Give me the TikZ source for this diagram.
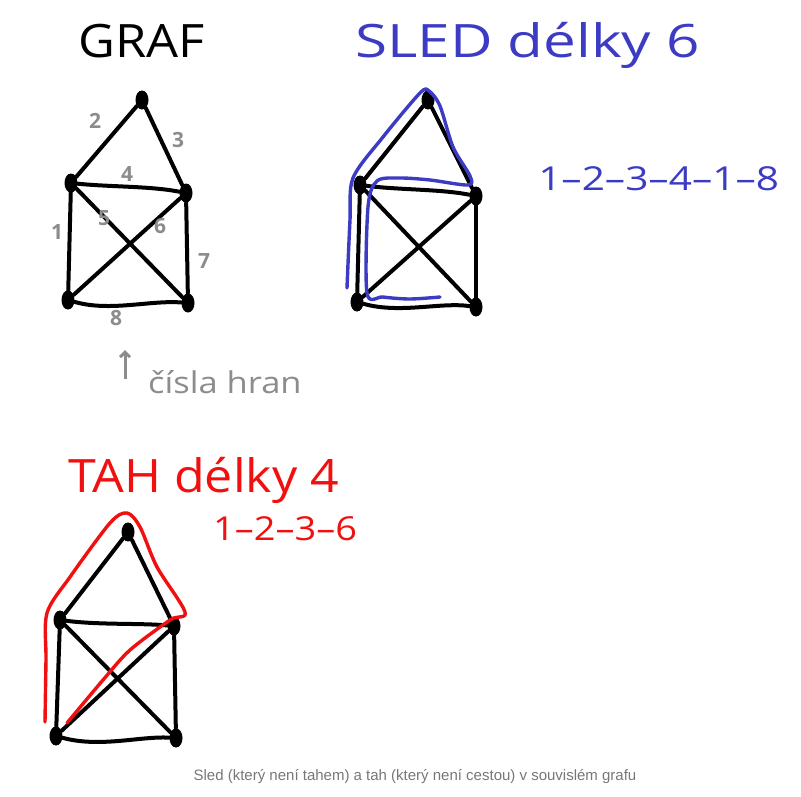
\documentclass[tikz,border=0pt]{standalone}
\usepackage{fontspec}
\setmainfont{Liberation Sans}
\newfontfamily\handfont{Open Sans}
\usetikzlibrary{shapes.geometric,arrows.meta}
\definecolor{sledblue}{HTML}{3B3BC4}
\definecolor{tahred}{HTML}{F01010}
\definecolor{lblgray}{HTML}{8C8C8C}
\definecolor{capgray}{HTML}{777777}
\tikzset{
  vtx/.style={ellipse,fill=black,minimum width=13pt,minimum height=19pt,inner sep=0pt},
  edg/.style={line width=4pt,line cap=round,black},
  elbl/.style={text=lblgray,font=\handfont\bfseries\fontsize{21}{21}\selectfont,inner sep=0pt},
  walkb/.style={line width=3.4pt,sledblue,line cap=round,line join=round},
  walkr/.style={line width=3.4pt,tahred,line cap=round,line join=round},
  hand/.style={inner sep=0pt,anchor=base west,transform shape},
}
\begin{document}
\begin{tikzpicture}[x=1pt,y=-1pt]
\useasboundingbox (0,0) rectangle (801,796);
% ---------- GRAF ----------
\node[hand,xscale=1.1,font=\handfont\fontsize{46}{46}\selectfont] (t1) at (78,57) {GRAF};
\node[vtx] (a1) at (142,100) {};
\node[vtx] (l1) at (71,183) {};
\node[vtx] (r1) at (186,193) {};
\node[vtx] (p1) at (68,300) {};
\node[vtx] (q1) at (188,303) {};
\draw[edg] (l1) -- (a1);
\draw[edg] (a1) -- (r1);
\draw[edg] (l1) .. controls (110,187) and (150,186) .. (r1);
\draw[edg] (l1) -- (p1);
\draw[edg] (l1) -- (q1);
\draw[edg] (r1) -- (p1);
\draw[edg] (r1) -- (q1);
\draw[edg] (p1) .. controls (110,312) and (150,300) .. (q1);
\node[elbl] (e2) at (95,121) {2};
\node[elbl] (e3) at (178,140) {3};
\node[elbl] (e4) at (127,174) {4};
\node[elbl] (e1) at (57,232) {1};
\node[elbl] (e5) at (104,218) {5};
\node[elbl] (e6) at (160,226) {6};
\node[elbl] (e7) at (204,261) {7};
\node[elbl] (e8) at (116,318) {8};
\coordinate (arrS) at (125,379);
\coordinate (arrE) at (125,350);
\draw[line width=3pt,lblgray,-{Straight Barb[length=5pt,width=10pt]}] (arrS) -- (arrE);
\node[hand,xscale=1.15,text=lblgray,font=\handfont\fontsize{30}{30}\selectfont] (cis) at (148,393) {čísla hran};
% ---------- SLED ----------
\node[hand,xscale=1.27,text=sledblue,font=\handfont\fontsize{46}{46}\selectfont] (t2) at (355,57) {SLED délky 6};
\node[hand,xscale=1.23,text=sledblue,font=\handfont\fontsize{33}{33}\selectfont] (s2) at (538,190) {1–2–3–4–1–8};
\node[vtx] (a2) at (428,100) {};
\node[vtx] (l2) at (360,185) {};
\node[vtx] (r2) at (476,196) {};
\node[vtx] (p2) at (357,302) {};
\node[vtx] (q2) at (476,307) {};
\draw[edg] (l2) -- (a2);
\draw[edg] (a2) -- (r2);
\draw[edg] (l2) .. controls (400,190) and (440,189) .. (r2);
\draw[edg] (l2) -- (p2);
\draw[edg] (l2) -- (q2);
\draw[edg] (r2) -- (p2);
\draw[edg] (r2) -- (q2);
\draw[edg] (p2) .. controls (400,314) and (440,302) .. (q2);
\draw[walkb] plot[smooth,tension=0.5] coordinates {(347,288) (350,220) (353,178) (383,137) (420,93) (429,91) (440,106) (453,147) (470,176) (468,185) (430,180) (400,178) (377,181) (368,207) (367,293) (383,297) (410,299) (440,297)};
% ---------- TAH ----------
\node[hand,xscale=1.09,text=tahred,font=\handfont\fontsize{46}{46}\selectfont] (t3) at (68,492) {TAH délky 4};
\node[hand,xscale=1.15,text=tahred,font=\handfont\fontsize{33}{33}\selectfont] (s3) at (213,540) {1–2–3–6};
\node[vtx] (a3) at (128,532) {};
\node[vtx] (l3) at (60,620) {};
\node[vtx] (r3) at (174,626) {};
\node[vtx] (p3) at (56,736) {};
\node[vtx] (q3) at (176,738) {};
\draw[edg] (l3) -- (a3);
\draw[edg] (a3) -- (r3);
\draw[edg] (l3) .. controls (100,625) and (140,623) .. (r3);
\draw[edg] (l3) -- (p3);
\draw[edg] (l3) -- (q3);
\draw[edg] (r3) -- (p3);
\draw[edg] (r3) -- (q3);
\draw[edg] (p3) .. controls (100,748) and (140,736) .. (q3);
\draw[walkr] plot[smooth,tension=0.5] coordinates {(45,722) (46,660) (47,613) (70,577) (110,523) (127,513) (140,527) (157,567) (185,612) (170,620) (130,650) (103,680) (67,723)};
% ---------- caption ----------
\node[text=capgray,font=\fontsize{15}{18}\selectfont,inner sep=0pt] (cap) at (415,777) {Sled (který není tahem) a tah (který není cestou) v souvislém grafu};
\end{tikzpicture}
\end{document}
